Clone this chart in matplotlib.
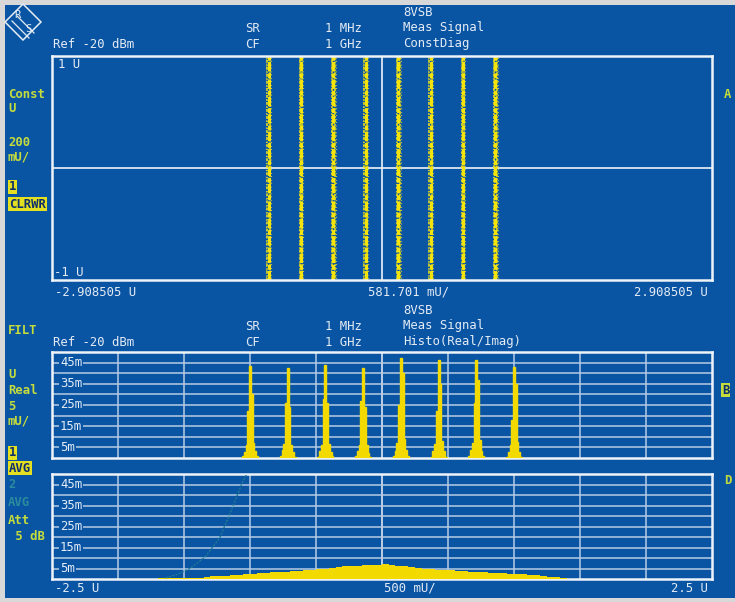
import matplotlib
matplotlib.use("Agg")
import matplotlib.pyplot as plt
from matplotlib.patches import Rectangle, Polygon

# ---------------------------------------------------------------- data
# 8VSB symbol levels (normalised to 1 V)
CONST_LEVELS = [-1.0, -0.714, -0.429, -0.143, 0.143, 0.429, 0.714, 1.0]
CONST_XLIM = (-2.908505, 2.908505)

# Histogram of real part: bin offsets around each level and counts (milli-units)
HIST_BIN_OFFSETS = [-0.04, -0.03, -0.02, -0.01, 0.0, 0.01, 0.02, 0.03, 0.04]
HIST_COUNTS = [
    [0.8, 3.0, 6.0, 22.0, 43.6, 30.0, 7.0, 3.5, 0.8],
    [0.8, 4.0, 6.5, 26.0, 42.6, 24.0, 6.0, 3.0, 0.6],
    [0.6, 3.5, 6.0, 28.0, 44.0, 26.0, 6.5, 3.0, 0.8],
    [0.8, 3.5, 6.0, 27.0, 42.6, 24.0, 6.0, 2.5, 0.6],
    [0.8, 3.5, 7.0, 25.0, 47.4, 40.0, 9.0, 4.0, 0.8],
    [0.6, 3.5, 6.5, 22.0, 46.0, 35.0, 8.0, 3.5, 0.6],
    [0.8, 4.0, 7.0, 26.0, 46.4, 37.0, 8.5, 3.5, 0.8],
    [0.6, 3.0, 6.0, 18.0, 43.0, 35.0, 7.5, 3.0, 0.6],
]
HIST_XLIM = (-2.5, 2.5)

# Broad distribution in lower window (milli-units), bins of 0.05 V from -1.70 V
DIST_START = -1.70
DIST_STEP = 0.05
DIST_HEIGHTS = [
    0.3, 0.3, 0.3, 0.3, 0.3, 0.3, 0.3, 1.0, 1.2, 1.5,
    1.6, 1.9, 2.1, 2.4, 2.5, 2.7, 2.8, 3.1, 3.2, 3.4,
    3.7, 3.8, 4.1, 4.3, 4.7, 5.0, 5.4, 5.8, 6.0, 6.3,
    6.1, 6.5, 6.8, 6.6, 7.2, 6.7, 6.4, 6.1, 5.8, 5.4,
    5.0, 4.8, 4.5, 4.3, 4.1, 3.9, 3.7, 3.5, 3.3, 3.2,
    3.0, 2.9, 2.8, 2.6, 2.4, 2.2, 2.0, 1.7, 1.4, 1.1,
    0.8, 0.5,
]

# Second (averaged) trace, runs off the top of the lower window
TRACE2_X = [-1.64, -1.55, -1.45, -1.34, -1.23, -1.15, -1.06, -1.02]
TRACE2_Y = [0.5, 2.2, 5.2, 10.5, 19.5, 31.4, 45.7, 50.5]

HIST_YTICK_LABELS = ["45m", "35m", "25m", "15m", "5m"]
HIST_YTICK_VALUES = [45, 35, 25, 15, 5]

# ---------------------------------------------------------------- styling
W, H = 735, 602
GRAY = "#d8d8d8"
BLUE = "#0a54a4"
FRAME = "#eef3f8"
GRID = "#b6cbe3"
TXT = "#e4ecf4"
YEL = "#f2da00"
CYEL = "#f4e40c"
CDIM = "#d0cc40"
LBL = "#c4dc3c"
HIL = "#e2e020"
DIM = "#2a8c9c"
TEAL = "#1f7c92"

plt.rcParams["font.family"] = ["DejaVu Sans Mono"]
FS = 8.8

fig = plt.figure(figsize=(W / 100, H / 100), dpi=100)
fig.patch.set_facecolor(GRAY)

ov = fig.add_axes([0, 0, 1, 1], zorder=0)
ov.set_xlim(0, W)
ov.set_ylim(H, 0)
ov.axis("off")
ov.add_patch(Rectangle((5, 5), W - 5, H - 9, facecolor=BLUE, edgecolor="none"))

# R&S logo
ov.add_patch(Polygon([(23, 4), (41, 22), (23, 40), (5, 22)], closed=True,
                     facecolor="none", edgecolor=TXT, lw=1.1))
ov.plot([12, 29], [21, 38], color=TXT, lw=0.9)
ov.plot([17, 34], [16, 33], color=TXT, lw=0.9)
ov.text(17, 15, "R", color=TXT, fontsize=7.5, ha="center", va="center")
ov.text(28, 29, "S", color=TXT, fontsize=7.5, ha="center", va="center")


def panel(y_top, y_bot):
    ax = fig.add_axes([52 / W, 1 - y_bot / H, 660 / W, (y_bot - y_top) / H], zorder=1)
    ax.set_facecolor(BLUE)
    for s in ax.spines.values():
        s.set_color(FRAME)
        s.set_linewidth(1.8)
    ax.set_xticks([])
    ax.set_yticks([])
    return ax


def txt(s, x, y, color=TXT, ha="left", weight="normal", box=None, size=FS, ax=None):
    kw = {}
    if box is not None:
        kw["bbox"] = dict(boxstyle="square,pad=0.08", facecolor=box, edgecolor="none")
    (ax or ov).text(x, y, s, color=color, ha=ha, va="center", fontsize=size,
                    fontweight=weight, transform=ov.transData, **kw)


# ---------------------------------------------------------------- headers
def header(y0, mode):
    txt("8VSB", 403, y0)
    txt("SR", 245, y0 + 15)
    txt("1 MHz", 362, y0 + 15, ha="right")
    txt("Meas Signal", 403, y0 + 15)
    txt("Ref -20 dBm", 53, y0 + 31)
    txt("CF", 245, y0 + 31)
    txt("1 GHz", 362, y0 + 31, ha="right")
    txt(mode, 403, y0 + 31)


header(13, "ConstDiag")
header(311, "Histo(Real/Imag)")

# ---------------------------------------------------------------- constellation
ax1 = panel(56, 280)
ax1.set_xlim(*CONST_XLIM)
ax1.set_ylim(-1, 1)
ax1.axhline(0, color=FRAME, lw=1.2, zorder=1)
ax1.axvline(0, color=FRAME, lw=1.2, zorder=1)
dx = (CONST_XLIM[1] - CONST_XLIM[0]) / 660
# each symbol column is a speckled vertical band built from offset dashed strokes
strokes = [
    (0.0, 2.2, CYEL, (0, (3.1, 0.4, 1.6, 0.6))),
    (-1.3, 1.1, CYEL, (0.4, (1.9, 0.7, 0.9, 1.1))),
    (1.3, 1.1, CYEL, (1.1, (1.3, 0.9, 2.3, 0.6))),
    (-2.4, 0.8, CDIM, (0.2, (0.8, 2.0, 0.7, 2.9))),
    (2.4, 0.8, CDIM, (1.7, (0.7, 2.6, 0.9, 1.9))),
]
for lv in CONST_LEVELS:
    for off, lw, col, ls in strokes:
        ax1.plot([lv + off * dx] * 2, [-1, 1], color=col, lw=lw,
                 linestyle=ls, zorder=2, solid_capstyle="butt")
txt("1 U", 58, 64, ax=ax1)
txt("-1 U", 54, 272, ax=ax1)

txt("-2.908505 U", 55, 292)
txt("581.701 mU/", 368, 292)
txt("2.908505 U", 708, 292, ha="right")


# ---------------------------------------------------------------- histogram grids
def hist_panel(y_top, y_bot):
    ax = panel(y_top, y_bot)
    ax.set_xlim(*HIST_XLIM)
    ax.set_ylim(0, 50)
    for gx in [-2.0, -1.5, -1.0, -0.5, 0.0, 0.5, 1.0, 1.5, 2.0]:
        ax.axvline(gx, color=GRID if gx != 0 else FRAME, lw=1.1, zorder=1)
    for gy in [5, 10, 15, 20, 25, 30, 35, 40, 45]:
        ax.axhline(gy, color=GRID, lw=1.1, zorder=1)
    yspan = y_bot - y_top
    for lab, v in zip(HIST_YTICK_LABELS, HIST_YTICK_VALUES):
        py = y_bot - v / 50 * yspan
        txt(lab, 60, py, box=BLUE, ax=ax)
    return ax


ax2 = hist_panel(352, 458)
bw = 0.0135
for lv, counts in zip(CONST_LEVELS, HIST_COUNTS):
    centers = [lv + o * bw / 0.01 for o in HIST_BIN_OFFSETS]
    edges = [c - bw / 2 for c in centers] + [centers[-1] + bw / 2]
    ax2.stairs(counts, edges, fill=True, color=YEL, linewidth=0, zorder=3,
               antialiased=False)
    ax2.stairs(counts, edges, color=YEL, linewidth=1.0, zorder=3)

ax3 = hist_panel(474, 579)
dist_edges = [DIST_START + i * DIST_STEP for i in range(len(DIST_HEIGHTS) + 1)]
ax3.stairs(DIST_HEIGHTS, dist_edges, fill=True, color=YEL, linewidth=0, zorder=3)
ax3.plot(TRACE2_X, TRACE2_Y, color=TEAL, lw=1.0, linestyle=(0, (1.5, 1.0)),
         zorder=4, clip_on=True)

txt("-2.5 U", 55, 588)
txt("500 mU/", 384, 588)
txt("2.5 U", 708, 588, ha="right")

# ---------------------------------------------------------------- side annotations
txt("Const", 8, 94, color=LBL, weight="bold")
txt("U", 8, 109, color=LBL, weight="bold")
txt("200", 8, 142, color=LBL, weight="bold")
txt("mU/", 8, 157, color=LBL, weight="bold")
txt("1", 9, 187, color="#10306c", weight="bold", box=HIL)
txt("CLRWR", 9, 204, color="#10306c", weight="bold", box=HIL)

txt("FILT", 8, 331, color=LBL, weight="bold")
txt("U", 8, 374, color=LBL, weight="bold")
txt("Real", 8, 390, color=LBL, weight="bold")
txt("5", 8, 406, color=LBL, weight="bold")
txt("mU/", 8, 421, color=LBL, weight="bold")
txt("1", 9, 453, color="#10306c", weight="bold", box=HIL)
txt("AVG", 9, 468, color="#10306c", weight="bold", box=HIL)
txt("2", 8, 484, color=DIM, weight="bold")
txt("AVG", 8, 502, color=DIM, weight="bold")
txt("Att", 8, 520, color=LBL, weight="bold")
txt(" 5 dB", 8, 536, color=LBL, weight="bold")

txt("A", 724, 94, color=LBL, weight="bold")
txt("B", 722, 390, color="#10306c", weight="bold", box=LBL)
txt("D", 724, 480, color=LBL, weight="bold")

fig.savefig("out.png", dpi=100, facecolor=fig.get_facecolor())
